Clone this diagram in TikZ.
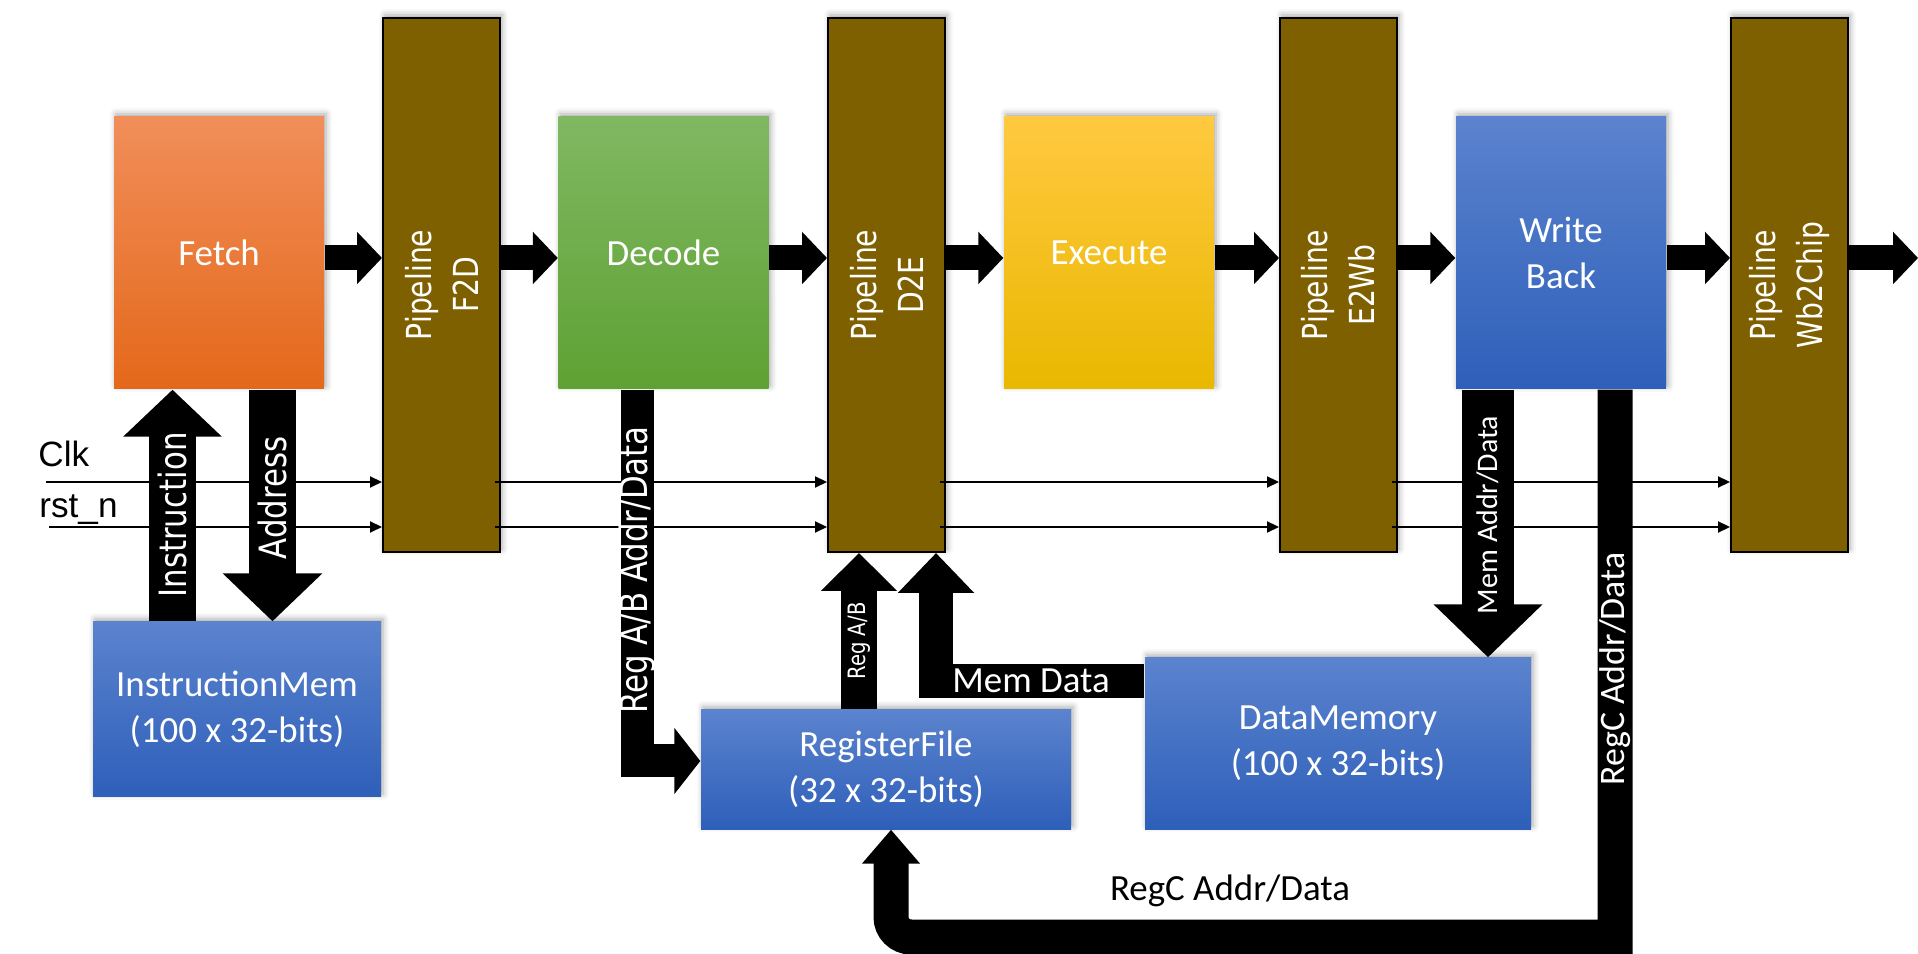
\documentclass[tikz,border=0pt]{standalone}
\usepackage{xcolor}
\usepackage{fontspec}
\setmainfont{Carlito}
\newfontfamily\verdfont[FakeStretch=0.82]{DejaVu Sans}
\newfontfamily\arialfont{Liberation Sans}
\usepackage{tikz}
\usetikzlibrary{arrows.meta}
\usetikzlibrary{shadows.blur}

\definecolor{pipebrown}{RGB}{127,96,0}
\definecolor{fetchtop}{RGB}{241,142,90}
\definecolor{fetchbot}{RGB}{228,104,26}
\definecolor{decodetop}{RGB}{128,184,98}
\definecolor{decodebot}{RGB}{95,161,51}
\definecolor{exectop}{RGB}{255,201,64}
\definecolor{execbot}{RGB}{233,184,0}
\definecolor{bluetop}{RGB}{91,131,206}
\definecolor{bluebot}{RGB}{46,95,185}

\begin{document}
\begin{tikzpicture}[
    softshadow/.style={
        blur shadow={shadow xshift=0.02cm, shadow yshift=0.03cm, shadow blur radius=0.06cm, shadow opacity=35}
        },
    stage/.style={
        softshadow,
        minimum width=2.1cm,
        minimum height=2.72cm,
        inner sep=0pt,
        text=white,
        align=center,
        font=\fontsize{10.5}{13}\selectfont
        },
    memory/.style={
        softshadow,
        top color=bluetop,
        bottom color=bluebot,
        inner sep=0pt,
        text=white,
        align=center,
        font=\fontsize{10.5}{13}\selectfont
        },
    pipe/.style={
        softshadow,
        draw=black,
        line width=0.2mm,
        fill=pipebrown,
        minimum width=1.17cm,
        minimum height=5.34cm,
        inner sep=0pt
        },
    pipetext/.style={
        text=white,
        rotate=90,
        align=center,
        font=\verdfont\fontsize{9.8}{13.4}\selectfont
        },
    arrowtext/.style={
        text=white,
        rotate=90,
        inner sep=0pt,
        font=\verdfont\fontsize{10.7}{12}\selectfont
        },
    flow/.style={
        line width=0.25cm,
        -{Triangle[length=0.25cm,width=0.51cm]}
        },
    clkline/.style={
        line width=0.2mm,
        -{Triangle[length=0.12cm,width=0.11cm]}
        },
    ]

    \useasboundingbox (0,0) rectangle (19.18,-9.54);

    \node[stage, top color=fetchtop, bottom color=fetchbot] (fetch) at (2.19,-2.53) {Fetch};
    \node[stage, top color=decodetop, bottom color=decodebot] (decode) at (6.635,-2.53) {Decode};
    \node[stage, top color=exectop, bottom color=execbot] (execute) at (11.09,-2.53) {Execute};
    \node[stage, top color=bluetop, bottom color=bluebot] (writeback) at (15.61,-2.53) {Write\\Back};

    \node[pipe] (f2d) at (4.415,-2.85) {};
    \node[pipe] (d2e) at (8.865,-2.85) {};
    \node[pipe] (e2wb) at (13.385,-2.85) {};
    \node[pipe] (wb2chip) at (17.895,-2.85) {};

    \node[pipetext] (f2dtext) at (f2d) {Pipeline\\F2D};
    \node[pipetext] (d2etext) at (d2e) {Pipeline\\D2E};
    \node[pipetext] (e2wbtext) at (e2wb) {Pipeline\\E2Wb};
    \node[pipetext] (wb2chiptext) at (wb2chip) {Pipeline\\Wb2Chip};

    \node[memory, minimum width=2.88cm, minimum height=1.75cm] (instmem) at (2.37,-7.095) {InstructionMem\\(100 x 32-bits)};
    \node[memory, minimum width=3.70cm, minimum height=1.19cm] (regfile) at (8.86,-7.695) {RegisterFile\\(32 x 32-bits)};
    \node[memory, minimum width=3.86cm, minimum height=1.71cm] (datamem) at (13.38,-7.435) {DataMemory\\(100 x 32-bits)};

    \coordinate (bus) at (0,-2.58);
    \coordinate (out) at (19.18,-2.58);
    \coordinate (clkin) at (0.46,-4.82);
    \coordinate (rstin) at (0.49,-5.27);
    \coordinate (insx) at (1.725,0);
    \coordinate (addrx) at (2.725,0);
    \coordinate (rab) at (6.37,-7.61);
    \coordinate (regabx) at (8.59,0);
    \coordinate (memd) at (9.36,-6.81);
    \coordinate (madx) at (14.88,0);
    \coordinate (regc) at (16.15,-9.37);
    \coordinate (regcl) at (8.91,0);

    \node[anchor=base west, font=\arialfont\fontsize{10}{12}\selectfont] (clk) at (0.26,-4.67) {Clk};
    \node[anchor=base west, font=\arialfont\fontsize{10}{12}\selectfont] (rstn) at (0.27,-5.18) {rst\_n};

    \draw[clkline] (clkin) -- (f2d.west |- clkin);
    \draw[clkline] (rstin) -- (f2d.west |- rstin);
    \draw[clkline] ([xshift=-0.06cm]f2d.east |- clkin) -- (d2e.west |- clkin);
    \draw[clkline] ([xshift=-0.06cm]f2d.east |- rstin) -- (d2e.west |- rstin);
    \draw[clkline] ([xshift=-0.06cm]d2e.east |- clkin) -- (e2wb.west |- clkin);
    \draw[clkline] ([xshift=-0.06cm]d2e.east |- rstin) -- (e2wb.west |- rstin);
    \draw[clkline] ([xshift=-0.06cm]e2wb.east |- clkin) -- (wb2chip.west |- clkin);
    \draw[clkline] ([xshift=-0.06cm]e2wb.east |- rstin) -- (wb2chip.west |- rstin);

    \draw[flow] (fetch.east |- bus) -- (f2d.west |- bus);
    \draw[flow] (f2d.east |- bus) -- (decode.west |- bus);
    \draw[flow] (decode.east |- bus) -- (d2e.west |- bus);
    \draw[flow] (d2e.east |- bus) -- (execute.west |- bus);
    \draw[flow] (execute.east |- bus) -- (e2wb.west |- bus);
    \draw[flow] (e2wb.east |- bus) -- (writeback.west |- bus);
    \draw[flow] (writeback.east |- bus) -- (wb2chip.west |- bus);
    \draw[flow] (wb2chip.east |- bus) -- (out);

    \draw[
        line width=0.47cm,
        -{Triangle[length=0.47cm,width=0.96cm]}
        ] (instmem.north -| insx) -- (fetch.south -| insx);

    \draw[
        line width=0.47cm,
        -{Triangle[length=0.48cm,width=0.97cm]}
        ] (fetch.south -| addrx) -- (instmem.north -| addrx);

    \draw[
        line width=0.33cm,
        -{Triangle[length=0.26cm,width=0.65cm]}
        ] (decode.south -| rab) |- (regfile.west |- rab);

    \draw[
        line width=0.36cm,
        -{Triangle[length=0.38cm,width=0.74cm]}
        ] (regfile.north -| regabx) -- (d2e.south -| regabx);

    \draw[
        line width=0.34cm,
        -{Triangle[length=0.40cm,width=0.74cm]}
        ] (datamem.west |- memd) -| (d2e.south -| memd);

    \draw[
        line width=0.52cm,
        -{Triangle[length=0.53cm,width=1.06cm]}
        ] (writeback.south -| madx) -- (datamem.north -| madx);

    \draw[
        line width=0.35cm,
        -{Triangle[length=0.34cm,width=0.56cm]}
        ] (writeback.south -| regc) -- (regc) [rounded corners=0.2cm] -| (regfile.south -| regcl);

    \node[arrowtext] (instrtext) at (1.725,-5.15) {Instruction};
    \node[arrowtext] (addrtext) at (2.725,-4.98) {Address};
    \node[arrowtext] (rabtext) at (6.37,-5.70) {Reg A/B Addr/Data};
    \node[arrowtext, font=\verdfont\fontsize{6.8}{8}\selectfont] (regabtext) at (8.59,-6.41) {Reg A/B};
    \node[text=white, inner sep=0pt, font=\fontsize{10.5}{13}\selectfont] (memdtext) at (10.31,-6.81) {Mem Data};
    \node[arrowtext, font=\fontsize{8.5}{10}\selectfont] (madtext) at (14.88,-5.15) {Mem Addr/Data};
    \node[arrowtext, font=\fontsize{10.2}{12}\selectfont] (regcvtext) at (16.15,-6.69) {RegC Addr/Data};
    \node[font=\fontsize{10.5}{13}\selectfont] (regchtext) at (12.30,-8.91) {RegC Addr/Data};

\end{tikzpicture}
\end{document}
